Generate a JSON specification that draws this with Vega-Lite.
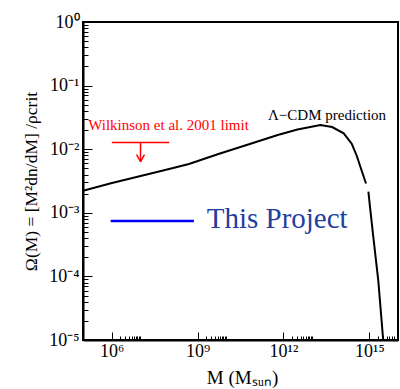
{
  "$schema": "https://vega.github.io/schema/vega-lite/v6.json",
  "width": 315,
  "height": 318,
  "autosize": {"type": "none"},
  "padding": {"left": 83, "top": 22, "right": 2, "bottom": 49},
  "view": {"stroke": "#000000", "strokeWidth": 2},
  "datasets": {
    "curve": [
      {"M": 1e5, "omega": 2.22e-3, "seg": 1},
      {"M": 9.46e5, "omega": 2.92e-3, "seg": 1},
      {"M": 9.46e6, "omega": 3.76e-3, "seg": 1},
      {"M": 1.02e8, "omega": 4.89e-3, "seg": 1},
      {"M": 5.01e8, "omega": 5.85e-3, "seg": 1},
      {"M": 5.37e9, "omega": 8.41e-3, "seg": 1},
      {"M": 5.89e10, "omega": 0.01186, "seg": 1},
      {"M": 6.31e11, "omega": 0.01671, "seg": 1},
      {"M": 3.09e12, "omega": 0.0204, "seg": 1},
      {"M": 1.95e13, "omega": 0.02404, "seg": 1},
      {"M": 5.01e13, "omega": 0.02234, "seg": 1},
      {"M": 1.27e14, "omega": 0.01778, "seg": 1},
      {"M": 2.45e14, "omega": 0.01207, "seg": 1},
      {"M": 3.65e14, "omega": 7.82e-3, "seg": 1},
      {"M": 5.01e14, "omega": 5.06e-3, "seg": 1},
      {"M": 7.64e14, "omega": 2.89e-3, "seg": 1},
      {"M": 9.25e14, "omega": 2.15e-3, "seg": 2},
      {"M": 1.05e15, "omega": 1.25e-3, "seg": 2},
      {"M": 1.37e15, "omega": 4.21e-4, "seg": 2},
      {"M": 2.04e15, "omega": 8.77e-5, "seg": 2},
      {"M": 3.04e15, "omega": 1e-5, "seg": 2}
    ],
    "redsegs": [
      {"M": 1.02e6, "M2": 1.02e8, "omega": 0.0128, "omega2": 0.0128},
      {"M": 1.02e7, "M2": 1.02e7, "omega": 0.0128, "omega2": 6.36e-3},
      {"M": 7.42e6, "M2": 1.02e7, "omega": 8.2e-3, "omega2": 6.36e-3},
      {"M": 1.4e7, "M2": 1.02e7, "omega": 8.2e-3, "omega2": 6.36e-3}
    ],
    "bluesegs": [
      {"M": 9.25e5, "M2": 7.45e8, "omega": 7.43e-4, "omega2": 7.43e-4}
    ],
    "labels": [
      {"M": 1.52e5, "omega": 0.02, "label": "Wilkinson et al. 2001 limit", "kind": "red"},
      {"M": 2.88e11, "omega": 0.02877, "label": "Λ−CDM prediction", "kind": "black"},
      {"M": 2.09e9, "omega": 5.7e-4, "label": "This Project", "kind": "blue"}
    ]
  },
  "layer": [
    {
      "data": {"name": "curve"},
      "mark": {"type": "line", "color": "#000000", "strokeWidth": 2, "clip": true},
      "encoding": {
        "x": {
          "field": "M", "type": "quantitative",
          "scale": {"type": "log", "domain": [1e5, 8e15]},
          "axis": {
            "orient": "bottom", "grid": false, "domainColor": "#000000", "domainWidth": 2,
            "tickColor": "#000000", "tickWidth": 1,
            "tickSize": {"condition": {"test": "indexof([1e6, 1e9, 1e12, 1e15], datum.value) >= 0", "value": -8}, "value": -4},
            "values": [1e6, 2e6, 3e6, 4e6, 5e6, 6e6, 7e6, 8e6, 9e6, 1e7, 1e9, 2e9, 3e9, 4e9, 5e9, 6e9, 7e9, 8e9, 9e9, 1e10, 1e12, 2e12, 3e12, 4e12, 5e12, 6e12, 7e12, 8e12, 9e12, 1e13, 1e15, 2e15, 3e15, 4e15, 5e15, 6e15, 7e15],
            "labelExpr": "datum.value == 1e6 ? '10⁶' : datum.value == 1e9 ? '10⁹' : datum.value == 1e12 ? '10¹²' : datum.value == 1e15 ? '10¹⁵' : ''",
            "labelFont": "Liberation Serif", "labelFontSize": 18, "labelColor": "#000000",
            "labelPadding": 10, "labelFlush": false, "labelOverlap": false,
            "title": "M (Mₛᵤₙ)",
            "titleFont": "Liberation Serif", "titleFontSize": 19, "titleFontWeight": "normal", "titleColor": "#000000",
            "titleX": 159, "titleY": 43, "titleAlign": "center", "titleBaseline": "alphabetic"
          }
        },
        "y": {
          "field": "omega", "type": "quantitative",
          "scale": {"type": "log", "domain": [1e-5, 1]},
          "axis": {
            "orient": "left", "grid": false, "domainColor": "#000000", "domainWidth": 2,
            "tickColor": "#000000", "tickWidth": 1,
            "tickSize": {"condition": {"test": "indexof([1, 0.1, 0.01, 0.001, 0.0001, 0.00001], datum.value) >= 0", "value": -9}, "value": -5},
            "values": [1e-5, 2e-5, 3e-5, 4e-5, 5e-5, 6e-5, 7e-5, 8e-5, 9e-5, 1e-4, 2e-4, 3e-4, 4e-4, 5e-4, 6e-4, 7e-4, 8e-4, 9e-4, 0.001, 0.002, 0.003, 0.004, 0.005, 0.006, 0.007, 0.008, 0.009, 0.01, 0.02, 0.03, 0.04, 0.05, 0.06, 0.07, 0.08, 0.09, 0.1, 0.2, 0.3, 0.4, 0.5, 0.6, 0.7, 0.8, 0.9, 1],
            "labelExpr": "datum.value == 1 ? '10⁰' : datum.value == 0.1 ? '10⁻¹' : datum.value == 0.01 ? '10⁻²' : datum.value == 0.001 ? '10⁻³' : datum.value == 0.0001 ? '10⁻⁴' : datum.value == 0.00001 ? '10⁻⁵' : ''",
            "labelFont": "Liberation Serif", "labelFontSize": 18, "labelColor": "#000000",
            "labelPadding": 13, "labelOverlap": false,
            "title": "Ω(M) = [M²dn/dM] /ρcrit",
            "titleFont": "Liberation Serif", "titleFontSize": 17.5, "titleFontWeight": "normal", "titleColor": "#000000",
            "titleX": -52, "titleY": 159, "titleAngle": -90, "titleAlign": "center", "titleBaseline": "middle"
          }
        },
        "detail": {"field": "seg", "type": "nominal"}
      }
    },
    {
      "data": {"name": "redsegs"},
      "mark": {"type": "rule", "color": "#ff0000", "strokeWidth": 1.5},
      "encoding": {
        "x": {"field": "M", "type": "quantitative"},
        "x2": {"field": "M2"},
        "y": {"field": "omega", "type": "quantitative"},
        "y2": {"field": "omega2"}
      }
    },
    {
      "data": {"name": "bluesegs"},
      "mark": {"type": "rule", "color": "#0000ff", "strokeWidth": 2.5},
      "encoding": {
        "x": {"field": "M", "type": "quantitative"},
        "x2": {"field": "M2"},
        "y": {"field": "omega", "type": "quantitative"},
        "y2": {"field": "omega2"}
      }
    },
    {
      "data": {"name": "labels"},
      "transform": [{"filter": "datum.kind == 'red'"}],
      "mark": {"type": "text", "font": "Liberation Serif", "fontSize": 15, "color": "#ff0000", "align": "left", "baseline": "alphabetic"},
      "encoding": {
        "x": {"field": "M", "type": "quantitative"},
        "y": {"field": "omega", "type": "quantitative"},
        "text": {"field": "label"}
      }
    },
    {
      "data": {"name": "labels"},
      "transform": [{"filter": "datum.kind == 'black'"}],
      "mark": {"type": "text", "font": "Liberation Serif", "fontSize": 15, "color": "#000000", "align": "left", "baseline": "alphabetic"},
      "encoding": {
        "x": {"field": "M", "type": "quantitative"},
        "y": {"field": "omega", "type": "quantitative"},
        "text": {"field": "label"}
      }
    },
    {
      "data": {"name": "labels"},
      "transform": [{"filter": "datum.kind == 'blue'"}],
      "mark": {"type": "text", "font": "Liberation Serif", "fontSize": 29, "color": "#1f409f", "align": "left", "baseline": "alphabetic"},
      "encoding": {
        "x": {"field": "M", "type": "quantitative"},
        "y": {"field": "omega", "type": "quantitative"},
        "text": {"field": "label"}
      }
    }
  ]
}
